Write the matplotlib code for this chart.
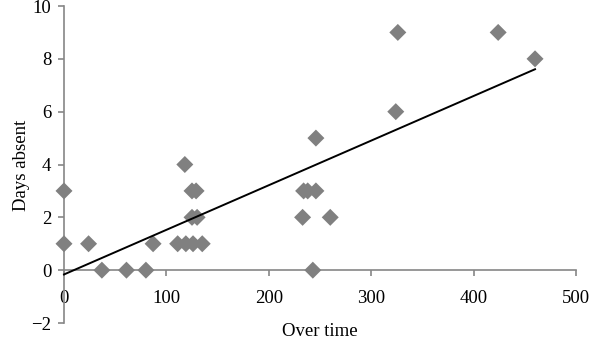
import numpy as np
import matplotlib
matplotlib.use("Agg")
import matplotlib.pyplot as plt

plt.rcParams['font.family'] = ['Liberation Serif', 'DejaVu Serif']

# over time (x) vs days absent (y)
over_time = [0, 0, 24, 37, 61, 80, 87, 111, 118, 119, 125, 126, 129, 125, 130, 135,
             233, 234, 238, 243, 246, 246, 260, 324, 326, 424, 460]
days_absent = [3, 1, 1, 0, 0, 0, 1, 1, 4, 1, 3, 1, 3, 2, 2, 1,
               2, 3, 3, 0, 3, 5, 2, 6, 9, 9, 8]

x = np.array(over_time, dtype=float)
y = np.array(days_absent, dtype=float)

# linear trendline, drawn from 0 to the largest x (excel style)
slope, intercept = np.polyfit(x, y, 1)
xs = np.array([0, x.max()])

fig = plt.figure(figsize=(5.9, 3.43), dpi=100)
ax = fig.add_axes([64/590, 1-323/343, (576-64)/590, (323-6)/343])

ax.scatter(x, y, marker='D', s=75, color='#808080', edgecolors='none', zorder=3, clip_on=False)
ax.plot(xs, slope*xs + intercept, color='black', lw=1.4, zorder=4, clip_on=False)

ax.set_xlim(0, 500)
ax.set_ylim(-2, 10)
ax.set_xticks([0, 100, 200, 300, 400, 500])
ax.set_yticks([-2, 0, 2, 4, 6, 8, 10])

for s in ['top', 'right']:
    ax.spines[s].set_visible(False)
ax.spines['bottom'].set_position(('data', 0))
ax.spines['bottom'].set_color('#868686')
ax.spines['left'].set_color('#868686')
ax.spines['bottom'].set_linewidth(1.2)
ax.spines['left'].set_linewidth(1.2)
ax.spines['left'].set_zorder(2)
ax.tick_params(axis='both', colors='#868686', length=4, width=1.2, labelcolor='black', labelsize=13.5)
ax.tick_params(axis='x', pad=10)
ax.tick_params(axis='y', pad=5)

fig.text(22/590, 1-165/343, 'Days absent', fontsize=13.5, ha='center', va='center', rotation=90)
fig.text(320/590, 1-332/343, 'Over time', fontsize=13.5, ha='center', va='center')

fig.savefig('out.png', dpi=100)
